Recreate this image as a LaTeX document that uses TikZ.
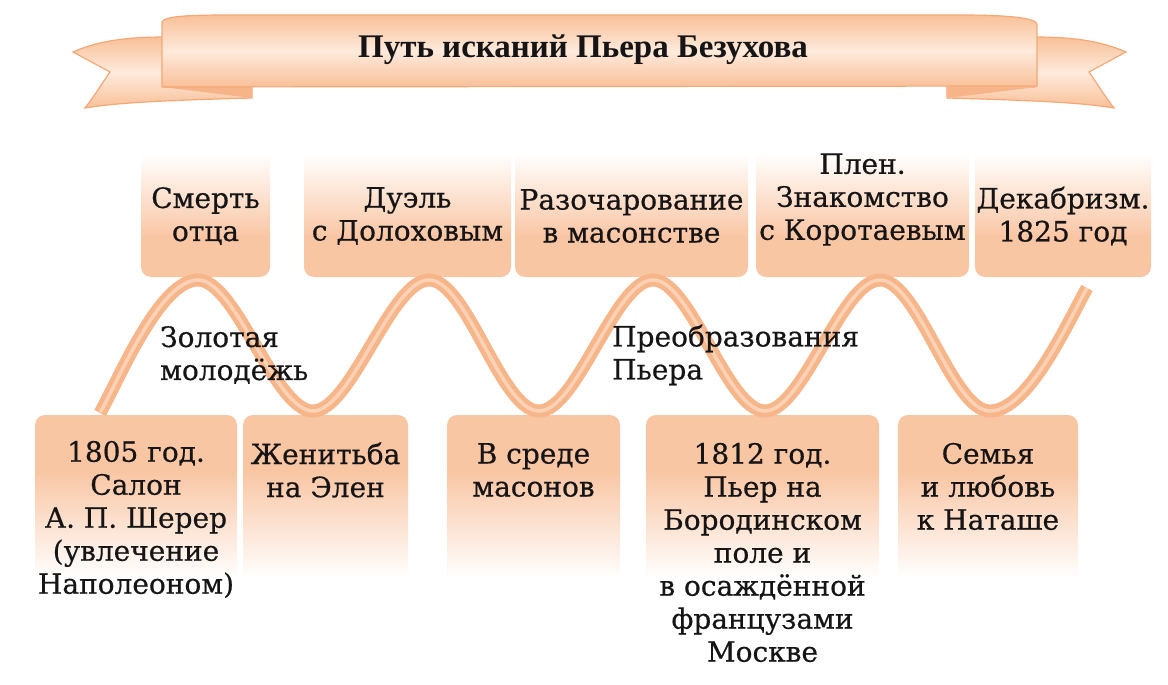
\documentclass[tikz,border=0pt]{standalone}
\usepackage{fontspec}
\setmainfont{DejaVu Serif}[FakeBold=0.5]
\newfontfamily\titlefont{Liberation Serif}
\definecolor{peach}{RGB}{249,198,164}
\definecolor{wavec}{RGB}{246,182,138}
\definecolor{wavehi}{RGB}{251,210,182}
\definecolor{banedge}{RGB}{249,192,152}
\definecolor{banmid}{RGB}{254,234,220}
\definecolor{banline}{RGB}{244,168,118}
\definecolor{banfold}{RGB}{247,180,136}
\definecolor{ink}{RGB}{22,20,20}
\pgfdeclareverticalshading{topfade}{100bp}{color(0bp)=(peach); color(25bp)=(peach); color(39bp)=(peach); color(68bp)=(white); color(75bp)=(white); color(100bp)=(white)}
\pgfdeclareverticalshading{botfade}{100bp}{color(0bp)=(white); color(25bp)=(white); color(32bp)=(white); color(60bp)=(peach); color(75bp)=(peach); color(100bp)=(peach)}
\tikzset{
  topbox/.style={shade, shading=topfade, rounded corners=10pt, inner sep=0pt, minimum height=144pt},
  botbox/.style={shade, shading=botfade, rounded corners=10pt, inner sep=0pt, minimum height=190pt},
  txt/.style={align=center, font=\fontsize{28}{33}\selectfont, text=ink, inner sep=0pt},
  lbl/.style={align=left, font=\fontsize{28}{33}\selectfont, text=ink, inner sep=0pt, anchor=west},
  banpart/.style={draw=banline, line width=1.2pt, top color=banedge, bottom color=banedge, middle color=banmid},
  ribbon/.style={draw=wavec, double=wavehi, double distance=3.5pt, line width=4.75pt}
}
\begin{document}
\begin{tikzpicture}[x=1pt,y=-1pt]
\useasboundingbox (0,0) rectangle (1168,685);
% banner tails
\path[banpart] (73,52) .. controls (100,40) and (130,37) .. (165,37) -- (165,87) -- (252,87) -- (252,98)
  .. controls (180,100) and (120,102) .. (85,108) .. controls (95,95) and (103,82) .. (110,72) -- cycle;
\fill[banfold] (162,87) -- (252,87) -- (252,98) -- cycle;
\begin{scope}[shift={(1199,0)}, xscale=-1]
\path[banpart] (73,52) .. controls (100,40) and (130,37) .. (165,37) -- (165,87) -- (252,87) -- (252,98)
  .. controls (180,100) and (120,102) .. (85,108) .. controls (95,95) and (103,82) .. (110,72) -- cycle;
\fill[banfold] (162,87) -- (252,87) -- (252,98) -- cycle;
\end{scope}
% banner centre
\path[banpart] (162,22) .. controls (164,16) and (190,15) .. (230,15) -- (960,15)
  .. controls (1010,15) and (1035,18) .. (1037,24) -- (1037,86) -- (162,87) -- cycle;
\node[font=\titlefont\bfseries\fontsize{33}{36}\selectfont, text=ink, inner sep=0pt] (title) at (583,50) {Путь исканий Пьера Безухова};
% top boxes
\node[topbox, minimum width=129pt] (b1) at (205.5,205) {};
\node[topbox, minimum width=207pt] (b2) at (407.5,205) {};
\node[topbox, minimum width=233pt] (b3) at (631.5,205) {};
\node[topbox, minimum width=213pt] (b4) at (862.5,205) {};
\node[topbox, minimum width=176pt] (b5) at (1063,205) {};
% bottom boxes
\node[botbox, minimum width=202pt] (c1) at (136,510) {};
\node[botbox, minimum width=165pt] (c2) at (325.5,510) {};
\node[botbox, minimum width=173pt] (c3) at (533.5,510) {};
\node[botbox, minimum width=233pt] (c4) at (762.5,510) {};
\node[botbox, minimum width=180pt] (c5) at (988,510) {};
% wave
\coordinate (w0) at (100,413);
\coordinate (p1) at (198,280);
\coordinate (t1) at (313,411);
\coordinate (p2) at (429,280);
\coordinate (t2) at (539,411);
\coordinate (p3) at (653,280);
\coordinate (t3) at (765,411);
\coordinate (p4) at (880,280);
\coordinate (t4) at (990,411);
\coordinate (w9) at (1087,288);
\draw[ribbon] (w0) .. controls +(20,-36) and +(-38,0) .. (p1)
  .. controls +(38,0) and +(-38,0) .. (t1)
  .. controls +(38,0) and +(-38,0) .. (p2)
  .. controls +(38,0) and +(-38,0) .. (t2)
  .. controls +(38,0) and +(-38,0) .. (p3)
  .. controls +(38,0) and +(-38,0) .. (t3)
  .. controls +(38,0) and +(-38,0) .. (p4)
  .. controls +(38,0) and +(-38,0) .. (t4)
  .. controls +(38,0) and +(-20,36) .. (w9);
% texts
\node[txt] (tb1) at (205.5,216) {Смерть\\отца};
\node[txt] (tb2) at (407.5,216) {Дуэль\\с Долоховым};
\node[txt] (tb3) at (631.5,216) {Разочарование\\в масонстве};
\node[txt] (tb4) at (862.5,199.5) {Плен.\\Знакомство\\с Коротаевым};
\node[txt] (tb5) at (1063,216) {Декабризм.\\1825 год};
\node[txt] (tc1) at (136,519.5) {1805 год.\\Салон\\А. П. Шерер\\(увлечение\\Наполеоном)};
\node[txt] (tc2) at (325.5,470) {Женитьба\\на Элен};
\node[txt] (tc3) at (533.5,470) {В среде\\масонов};
\node[txt] (tc4) at (762.5,552.5) {1812 год.\\Пьер на\\Бородинском\\поле и\\в осаждённой\\французами\\Москве};
\node[txt] (tc5) at (988,486.5) {Семья\\и любовь\\к Наташе};
\node[lbl] (l1) at (160,355) {Золотая\\молодёжь};
\node[lbl] (l2) at (612,355) {Преобразования\\Пьера};
\end{tikzpicture}
\end{document}
